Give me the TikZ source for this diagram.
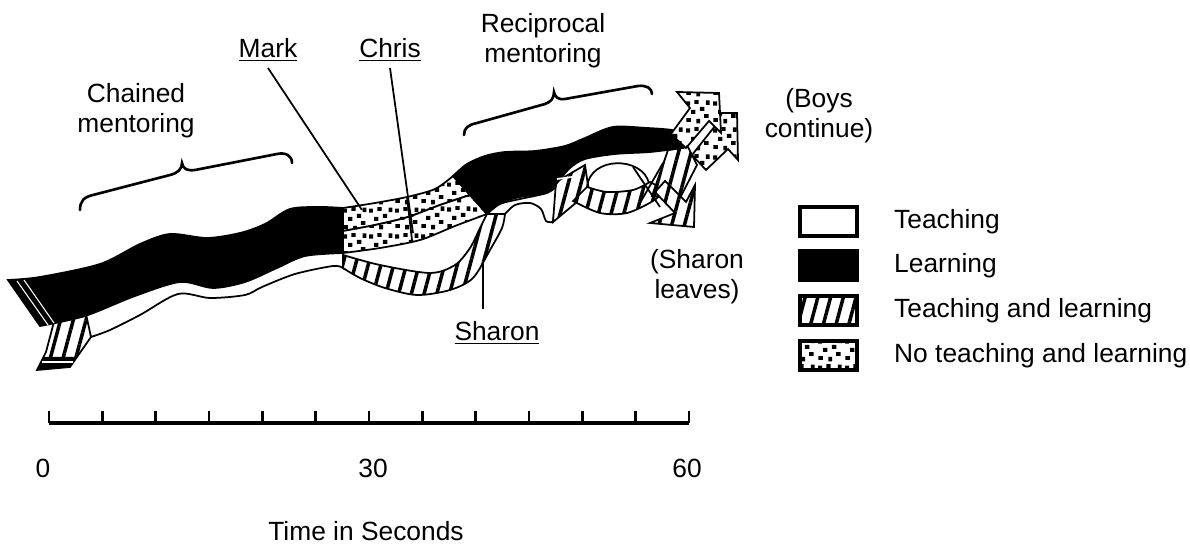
\documentclass[tikz,border=0pt]{standalone}
\usepackage{fontspec}
\setmainfont{Liberation Sans}
\usetikzlibrary{patterns,patterns.meta}
\pgfdeclarepatternformonly{mouchetis}{\pgfqpoint{0pt}{0pt}}{\pgfqpoint{15pt}{15pt}}{\pgfqpoint{15pt}{15pt}}{%
  \pgfpathrectangle{\pgfqpoint{0.8pt}{1.2pt}}{\pgfqpoint{2.6pt}{2.2pt}}%
  \pgfpathrectangle{\pgfqpoint{6.5pt}{0.4pt}}{\pgfqpoint{2.2pt}{2.6pt}}%
  \pgfpathrectangle{\pgfqpoint{11pt}{3.5pt}}{\pgfqpoint{2.6pt}{2.2pt}}%
  \pgfpathrectangle{\pgfqpoint{3.6pt}{5.8pt}}{\pgfqpoint{2.4pt}{2.4pt}}%
  \pgfpathrectangle{\pgfqpoint{8.6pt}{7.6pt}}{\pgfqpoint{2.6pt}{2.3pt}}%
  \pgfpathrectangle{\pgfqpoint{0.6pt}{10.6pt}}{\pgfqpoint{2.3pt}{2.4pt}}%
  \pgfpathrectangle{\pgfqpoint{5.4pt}{11.6pt}}{\pgfqpoint{2.5pt}{2.2pt}}%
  \pgfpathrectangle{\pgfqpoint{12pt}{11pt}}{\pgfqpoint{2.2pt}{2.6pt}}%
  \pgfusepath{fill}}
\tikzset{
  texte/.style={font=\fontsize{15}{17}\selectfont},
  bloc/.style={texte, align=center},
  noir/.style={fill=black, draw=black, line width=1pt},
  blanc/.style={fill=white, draw=black, line width=1pt},
  raye/.style={preaction={fill=white}, pattern={Lines[angle=75,distance=7pt,line width=2pt]}, draw=black, line width=1pt},
  pointille/.style={preaction={fill=white}, pattern=mouchetis, draw=black, line width=1pt},
  trait/.style={line width=1pt},
  accolade/.style={line width=1.5pt, line cap=round},
  axe/.style={line width=2pt},
  graduation/.style={line width=1.6pt}
}
\newcommand{\bande}[3]{\path[#1] plot[smooth] coordinates {#2} -- plot[smooth] coordinates {#3} -- cycle}
\newcommand{\legende}[4]{\path[#1, line width=2pt] (800,#2) rectangle ++(57,29);
  \node[texte, anchor=west] (#3) at (888,#2+14.5) {#4}}

\begin{document}
\begin{tikzpicture}[x=0.02cm, y=-0.02cm]
\useasboundingbox (0,0) rectangle (1190,546);
%Labels
	\node[bloc] (chained) at (136,111) {Chained\\mentoring};
	\node[bloc] (reciprocal) at (543,41) {Reciprocal\\mentoring};
	\node[texte, anchor=base] (mark) at (268,58) {\underline{Mark}};
	\node[texte, anchor=base] (chris) at (390,58) {\underline{Chris}};
	\node[texte, anchor=base] (sharon) at (497,341) {\underline{Sharon}};
	\node[bloc] (boys) at (819,116) {(Boys\\continue)};
	\node[bloc] (leaves) at (697,277) {(Sharon\\leaves)};
%Braces
	\draw[accolade] (80,210) .. controls (80,201) and (84,197) .. (93,195) -- (170,175)
		.. controls (178,173) and (182,169) .. (182,163) .. controls (183,169) and (187,171) .. (195,170)
		-- (277,154) .. controls (286,152) and (292,156) .. (292,163);
	\draw[accolade] (464,135) .. controls (464,128) and (468,125) .. (477,123) -- (545,104)
		.. controls (551,102) and (554,98) .. (554,92) .. controls (555,97) and (558,100) .. (565,99)
		-- (638,86) .. controls (646,85) and (652,88) .. (652,94);
%Chained mentoring
	\path[raye] (55,318) -- (89,316) -- (91,337) -- (70,367) -- (37,370) -- (46,352) -- cycle;
	\fill (43.5,357) -- (77,357) -- (70,367) -- (37,370) -- cycle;
	\draw[white, line width=0.6pt] (42,362) -- (73,362);
	\bande{blanc}{(86,314) (135,293) (180,279) (213,285) (245,279) (277,265) (305,252) (343,249)}{(343,268) (333,266) (295,274) (262,287) (245,295) (210,298) (178,294) (140,315) (110,330) (91,337)};
	\bande{noir}{(8,280) (40,277) (100,264) (140,244) (170,234) (207,238) (240,233) (265,224) (290,209) (320,207) (343,208)}{(343,253) (305,256) (277,268) (245,282) (213,288) (180,282) (135,296) (85,316) (40,326)};
	\draw[white, line width=0.6pt] (17,281) -- (48,325);
	\draw[white, line width=0.6pt] (24,280) -- (54,323);
%Mark, Chris and Sharon
	\bande{pointille}{(343,208) (375,203) (407,197) (435,189) (453,176)}{(470,195) (440,205) (408,217) (375,225) (343,231)};
	\bande{pointille}{(343,231) (375,225) (408,217) (440,205) (470,195)}{(487,214) (455,226) (420,240) (380,248) (343,253)};
	\draw[trait] (407,197) -- (412,240);
	\bande{raye}{(343,255) (380,265) (430,273) (455,265) (470,248) (480,228) (487,214)}{(505,214) (502,228) (490,250) (473,278) (450,290) (417,295) (385,288) (360,278) (343,268)};
%Reciprocal mentoring
	\bande{blanc}{(487,214) (500,204) (520,199) (547,193) (557,186)}{(553,222) (546,221) (541,209) (530,203) (515,205) (505,214)};
	\path[raye] (556,182) -- (585,165) -- (589,192) -- (553,222) -- cycle;
	\bande{raye}{(573,201) (600,213) (627,213) (653,201) (665,190)}{(650,182) (633,190) (607,192) (587,187)};
	\draw[trait] (587,187) .. controls (590,156) and (642,156) .. (649,183);
	\path[raye] (652,196) -- (668,150) -- (688,147) -- (697,165) -- (680,198) -- cycle;
	\draw[trait] (633,167) -- (660,207);
	\draw[trait] (640,203) -- (663,163);
	\bande{noir}{(453,176) (467,164) (485,156) (505,152) (535,151) (565,146) (585,138) (613,127) (647,128) (672,130) (682,134)}{(683,148) (650,152) (615,154) (585,159) (570,168) (556,184) (545,193) (520,197) (500,203) (487,214)};
	\draw[white, line width=1pt] (557,179) -- (572,177);
%Arrows
	\path[raye] (694,227) -- (695,185) -- (686,202) -- (665,181) -- (655,192) -- (675,213) -- (650,223) -- cycle;
	\path[pointille] (737,113) -- (738,160) -- (728,149) -- (706,170) -- (692,155) -- (715,126) -- (722,113) -- cycle;
	\path[pointille] (719,93) -- (721,133) -- (709,121) -- (686,148) -- (671,134) -- (690,108) -- (677,92) -- cycle;
%Pointers
	\coordinate (markpt) at (362,210);
	\coordinate (chrispt) at (413,233);
	\coordinate (sharonpt) at (483,262);
	\draw[trait] (mark.south) -- (markpt);
	\draw[trait] (chris.south) -- (chrispt);
	\draw[trait, shorten >=4pt] (sharonpt) -- (sharonpt |- sharon.north);
%Time line
	\draw[axe] (49,423) -- (689,423);
	\foreach \i in {0,...,12} \draw[graduation] (49+\i*53.33,423) -- ++(0,-12);
	\node[texte, anchor=base] (t0) at (43,478) {0};
	\node[texte, anchor=base] (t30) at (373,478) {30};
	\node[texte, anchor=base] (t60) at (687,478) {60};
	\node[texte, anchor=base] (temps) at (366,541) {Time in Seconds};
%Legend
	\legende{blanc}{207}{teaching}{Teaching};
	\legende{noir}{251}{learning}{Learning};
	\legende{raye}{296}{both}{Teaching and learning};
	\legende{pointille}{341}{neither}{No teaching and learning};
\end{tikzpicture}
\end{document}
